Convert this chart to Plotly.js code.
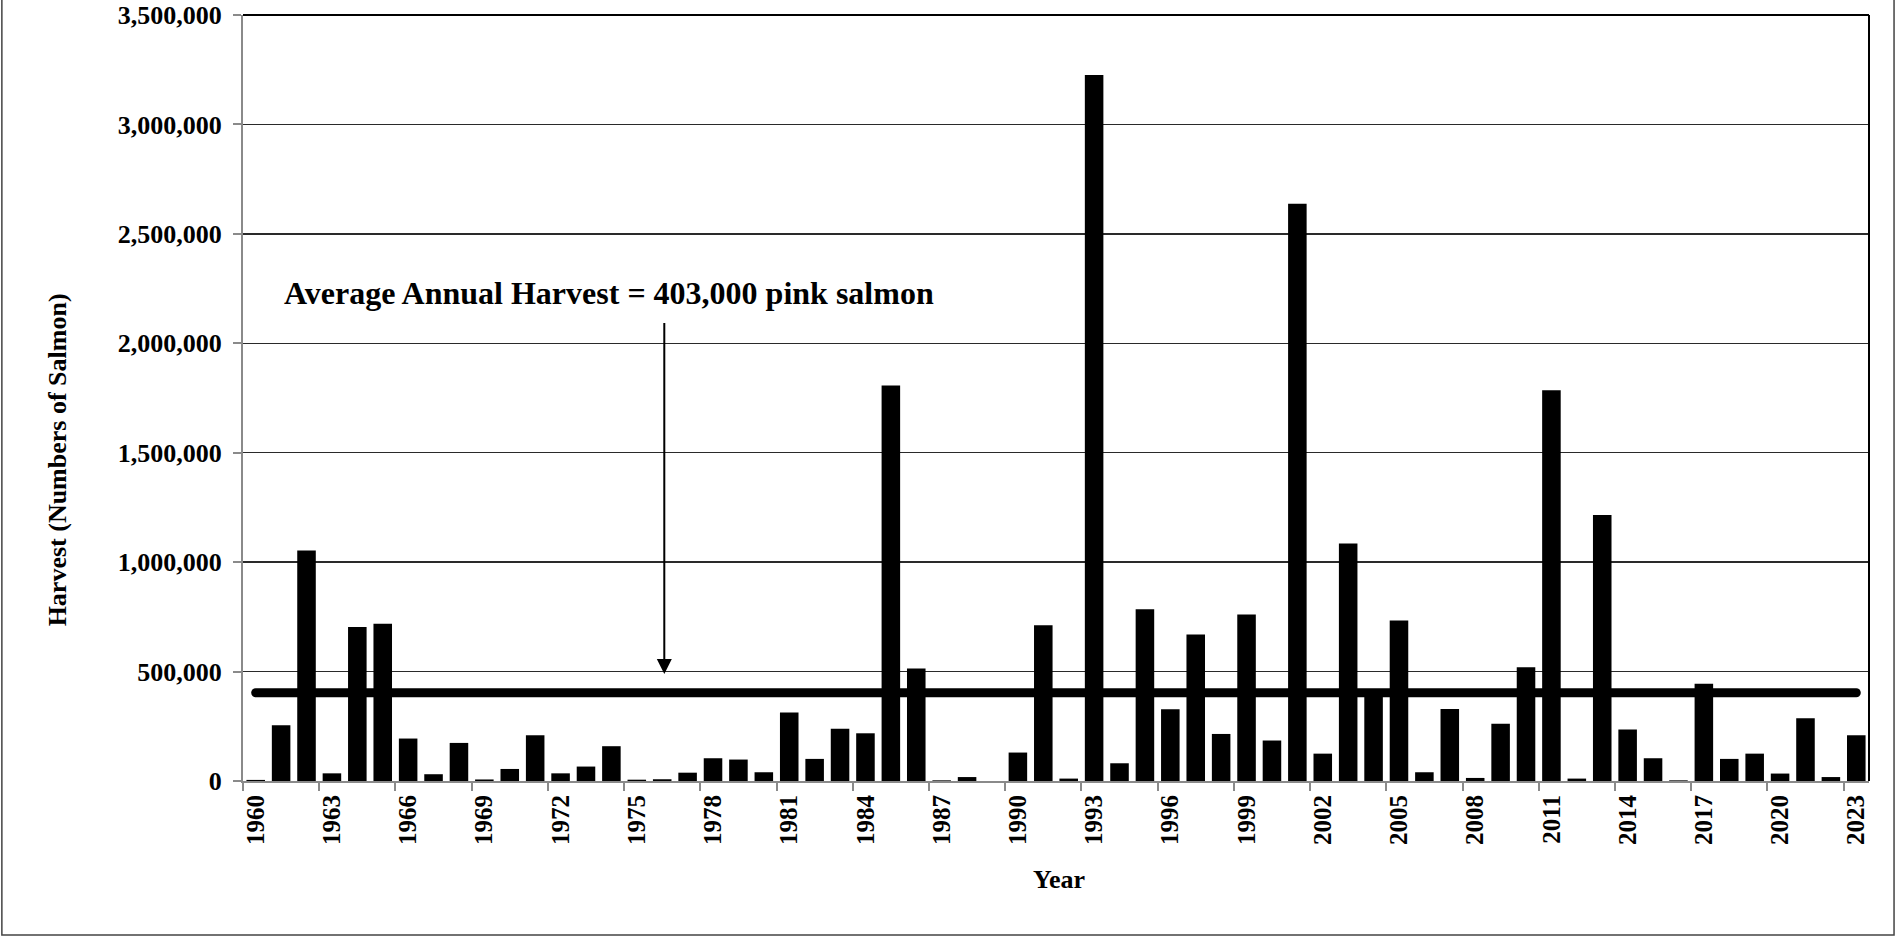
<!DOCTYPE html>
<html>
<head>
<meta charset="utf-8">
<script src="https://cdn.plot.ly/plotly-3.0.1.min.js"></script>
<style>
  html, body { margin: 0; padding: 0; background: #fff; }
  #chart { width: 1896px; height: 937px; }
  #chart .scatterlayer .js-line { stroke-linecap: round; }
</style>
</head>
<body>
<div id="chart"></div>
<script>
// ---- Data ----
const years = ["1960","1961","1962","1963","1964","1965","1966","1967","1968","1969",
               "1970","1971","1972","1973","1974","1975","1976","1977","1978","1979",
               "1980","1981","1982","1983","1984","1985","1986","1987","1988","1989",
               "1990","1991","1992","1993","1994","1995","1996","1997","1998","1999",
               "2000","2001","2002","2003","2004","2005","2006","2007","2008","2009",
               "2010","2011","2012","2013","2014","2015","2016","2017","2018","2019",
               "2020","2021","2022","2023"];

const harvest = [5000, 255000, 1053000, 35000, 704000, 718000, 194000, 31000, 174000, 7000,
                 55000, 209000, 35000, 66000, 159000, 6000, 8000, 38000, 104000, 98000,
                 40000, 313000, 101000, 239000, 218000, 1807000, 514000, 3000, 18000, 0,
                 130000, 712000, 11000, 3226000, 81000, 785000, 328000, 669000, 215000, 761000,
                 185000, 2638000, 125000, 1085000, 395000, 733000, 40000, 329000, 14000, 262000,
                 520000, 1785000, 11000, 1215000, 235000, 104000, 3000, 444000, 101000, 125000,
                 34000, 287000, 18000, 209000];

const averageHarvest = 403000;
const averageLabel = "Average Annual Harvest = 403,000 pink salmon";
const yTitle = "Harvest (Numbers of Salmon)";
const xTitle = "Year";

// ---- Traces ----
const bars = {
  type: "bar",
  x: years,
  y: harvest,
  marker: { color: "#000000", line: { width: 0 } },
  hoverinfo: "x+y",
  showlegend: false
};

const avgLine = {
  type: "scatter",
  mode: "lines",
  x: [years[0], years[years.length - 1]],
  y: [averageHarvest, averageHarvest],
  line: { color: "#000000", width: 9 },
  hoverinfo: "skip",
  showlegend: false
};

const serif = "Liberation Serif, Times New Roman, serif";

const layout = {
  width: 1896,
  height: 937,
  margin: { l: 243, r: 27, t: 15, b: 156, pad: 0 },
  paper_bgcolor: "#ffffff",
  plot_bgcolor: "#ffffff",
  font: { family: serif, color: "#000000", weight: "bold" },
  bargap: 0.27,
  showlegend: false,
  xaxis: {
    type: "category",
    tickmode: "linear",
    tick0: 0,
    dtick: 3,
    tickson: "boundaries",
    tickangle: -90,
    ticks: "outside",
    ticklen: 8,
    tickwidth: 2,
    tickcolor: "#8a8a8a",
    ticklabelstandoff: 2,
    tickfont: { family: serif, size: 25, color: "#000000", weight: "bold" },
    showgrid: false,
    showline: true,
    linecolor: "#8a8a8a",
    linewidth: 2,
    zeroline: false,
    fixedrange: true
  },
  yaxis: {
    range: [0, 3500000],
    tickmode: "linear",
    tick0: 0,
    dtick: 500000,
    tickformat: ",d",
    ticks: "outside",
    ticklen: 8,
    tickwidth: 2,
    tickcolor: "#8a8a8a",
    ticklabelstandoff: 6,
    tickfont: { family: serif, size: 26, color: "#000000", weight: "bold" },
    showgrid: true,
    gridcolor: "#2a2a2a",
    gridwidth: 1.5,
    showline: true,
    linecolor: "#8a8a8a",
    linewidth: 2,
    zeroline: false,
    fixedrange: true
  },
  shapes: [
    // plot-area top and right border
    { type: "line", xref: "paper", yref: "paper", x0: 0, x1: 1, y0: 1, y1: 1,
      line: { color: "#000000", width: 2 } },
    { type: "line", xref: "paper", yref: "paper", x0: 1, x1: 1, y0: 0, y1: 1,
      line: { color: "#000000", width: 2 } },
    // outer chart frame
    { type: "rect", xref: "paper", yref: "paper", x0: -0.1483, x1: 1.0154, y0: -0.2010, y1: 1.2,
      line: { color: "#444444", width: 1.5 }, fillcolor: "rgba(0,0,0,0)", layer: "below" }
  ],
  annotations: [
    { text: averageLabel, xref: "paper", yref: "paper", x: 0.2252, y: 0.637,
      xanchor: "center", yanchor: "middle", showarrow: false,
      font: { family: serif, size: 32, color: "#000000", weight: "bold" } },
    { text: "", xref: "paper", yref: "y", x: 0.2591, y: 489000,
      ax: 0, ayref: "y", ay: 2100000, showarrow: true,
      arrowhead: 2, arrowsize: 1.5, arrowwidth: 2, arrowcolor: "#000000", standoff: 0 },
    { text: yTitle, xref: "paper", yref: "paper", x: -0.1142, y: 0.419,
      xanchor: "center", yanchor: "middle", textangle: -90, showarrow: false,
      font: { family: serif, size: 26, color: "#000000", weight: "bold" } },
    { text: xTitle, xref: "paper", yref: "paper", x: 0.5019, y: -0.128,
      xanchor: "center", yanchor: "middle", showarrow: false,
      font: { family: serif, size: 26, color: "#000000", weight: "bold" } }
  ]
};

Plotly.newPlot("chart", [bars, avgLine], layout, { displayModeBar: false, staticPlot: true });
</script>
</body>
</html>
